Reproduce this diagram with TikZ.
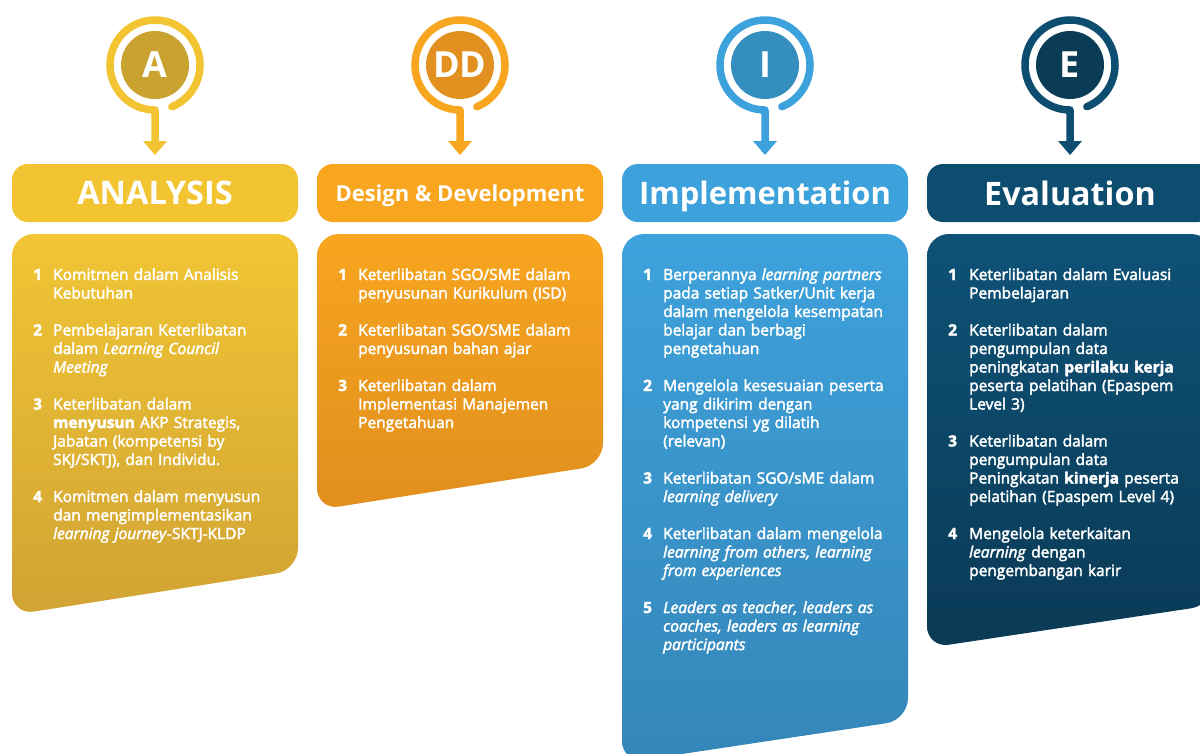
\documentclass[tikz,border=0pt]{standalone}
\usepackage{fontspec}
\setmainfont{Open Sans}
\newfontfamily\bodyf{Open Sans}[FakeBold=2.5]
\definecolor{aRing}{HTML}{F2C432}
\definecolor{aDisk}{HTML}{C9A22F}
\definecolor{aTop}{HTML}{F1C534}
\definecolor{aBot}{HTML}{D0A334}
\definecolor{dRing}{HTML}{F8A51F}
\definecolor{dDisk}{HTML}{E2901F}
\definecolor{dTop}{HTML}{F8A51F}
\definecolor{dBot}{HTML}{E08F1E}
\definecolor{iRing}{HTML}{3DA1DB}
\definecolor{iDisk}{HTML}{348EBE}
\definecolor{iTop}{HTML}{3EA2DC}
\definecolor{iBot}{HTML}{3586B8}
\definecolor{eRing}{HTML}{0D4D70}
\definecolor{eDisk}{HTML}{0B3C56}
\definecolor{eTop}{HTML}{0E5277}
\definecolor{eBot}{HTML}{0A3A55}
\newcommand\admicon[5]{%
  \draw[line width=7.5pt, color=#2, line cap=round, line join=round]
    (#1,65) ++(68:45) arc[start angle=68, end angle=-270, radius=45] -- (#1,143);
  \fill[#2] (#1-12,141) -- (#1+12,141) -- (#1,155) -- cycle;
  \node[disk, fill=#3] (#5) at (#1,65) {#4};
}
\newcommand\admbody[5]{% left, top color, bottom color, y right, y left
  \shade[top color=#2, bottom color=#3, rounded corners=22pt]
    (#1,234) -- (#1+286,234) -- (#1+286,#4) -- (#1,#5) -- cycle;
}
\tikzset{
  disk/.style={circle, minimum size=68pt, inner sep=0pt, text=white,
    font=\bfseries\fontsize{36}{36}\selectfont},
  hdr/.style={rounded corners=16pt, minimum width=286pt, minimum height=58pt,
    inner sep=0pt, text=white, text depth=0pt},
  itemnum/.style={anchor=base west, inner sep=0pt, text=white,
    font=\bodyf\bfseries\fontsize{15.5}{18.5}\selectfont},
  itemtxt/.style={anchor=base west, inner sep=0pt, text=white, align=left,
    text width=250pt, font=\bodyf\fontsize{15.5}{18.5}\selectfont},
}
\begin{document}
\begin{tikzpicture}[x=1pt, y=-1pt]
\useasboundingbox (0,0) rectangle (1200,753);
\fill[white] (0,0) rectangle (1200,753);
\clip (0,0) rectangle (1200,753);

% icons
\admicon{155}{aRing}{aDisk}{A}{iconA}
\admicon{460}{dRing}{dDisk}{DD}{iconD}
\admicon{765}{iRing}{iDisk}{I}{iconI}
\admicon{1070}{eRing}{eDisk}{E}{iconE}

% headers
\node[hdr, fill=aRing, font=\bfseries\fontsize{32.5}{32.5}\selectfont] (headA) at (155,193) {ANALYSIS};
\node[hdr, fill=dRing, font=\bfseries\fontsize{22}{22}\selectfont] (headD) at (460,193) {Design \& Development};
\node[hdr, fill=iRing, font=\bfseries\fontsize{31}{31}\selectfont] (headI) at (765,193) {Implementation};
\node[hdr, fill=eRing, font=\bfseries\fontsize{32.3}{32.3}\selectfont] (headE) at (1070,193) {Evaluation};

% bodies
\admbody{12}{aTop}{aBot}{570}{615}
\admbody{317}{dTop}{dBot}{465}{510}
\admbody{622}{iTop}{iBot}{720}{763}
\admbody{927}{eTop}{eBot}{605}{648}

% column A
\node[itemnum] (nA1) at (33,280) {1};
\node[itemtxt] (tA1) at (53,280) {Komitmen dalam Analisis\\Kebutuhan};
\node[itemnum] (nA2) at (33,335.5) {2};
\node[itemtxt] (tA2) at (53,335.5) {Pembelajaran Keterlibatan\\dalam \textit{Learning Council}\\\textit{Meeting}};
\node[itemnum] (nA3) at (33,409.5) {3};
\node[itemtxt] (tA3) at (53,409.5) {Keterlibatan dalam\\\textbf{menyusun} AKP Strategis,\\Jabatan (kompetensi by\\SKJ/SKTJ), dan Individu.};
\node[itemnum] (nA4) at (33,502) {4};
\node[itemtxt] (tA4) at (53,502) {Komitmen dalam menyusun\\dan mengimplementasikan\\\textit{learning journey}-SKTJ-KLDP};

% column DD
\node[itemnum] (nD1) at (338,280) {1};
\node[itemtxt] (tD1) at (358,280) {Keterlibatan SGO/SME dalam\\penyusunan Kurikulum (ISD)};
\node[itemnum] (nD2) at (338,335.5) {2};
\node[itemtxt] (tD2) at (358,335.5) {Keterlibatan SGO/SME dalam\\penyusunan bahan ajar};
\node[itemnum] (nD3) at (338,391) {3};
\node[itemtxt] (tD3) at (358,391) {Keterlibatan dalam\\Implementasi Manajemen\\Pengetahuan};

% column I
\node[itemnum] (nI1) at (643,280) {1};
\node[itemtxt] (tI1) at (663,280) {Berperannya \textit{learning partners}\\pada setiap Satker/Unit kerja\\dalam mengelola kesempatan\\belajar dan berbagi\\pengetahuan};
\node[itemnum] (nI2) at (643,391) {2};
\node[itemtxt] (tI2) at (663,391) {Mengelola kesesuaian peserta\\yang dikirim dengan\\kompetensi yg dilatih\\(relevan)};
\node[itemnum] (nI3) at (643,483.5) {3};
\node[itemtxt] (tI3) at (663,483.5) {Keterlibatan SGO/sME dalam\\\textit{learning delivery}};
\node[itemnum] (nI4) at (643,539) {4};
\node[itemtxt] (tI4) at (663,539) {Keterlibatan dalam mengelola\\\textit{learning from others, learning}\\\textit{from experiences}};
\node[itemnum] (nI5) at (643,613) {5};
\node[itemtxt] (tI5) at (663,613) {\textit{Leaders as teacher, leaders as}\\\textit{coaches, leaders as learning}\\\textit{participants}};

% column E
\node[itemnum] (nE1) at (948,280) {1};
\node[itemtxt] (tE1) at (969,280) {Keterlibatan dalam Evaluasi\\Pembelajaran};
\node[itemnum] (nE2) at (948,335.5) {2};
\node[itemtxt] (tE2) at (969,335.5) {Keterlibatan dalam\\pengumpulan data\\peningkatan \textbf{perilaku kerja}\\peserta pelatihan (Epaspem\\Level 3)};
\node[itemnum] (nE3) at (948,446.5) {3};
\node[itemtxt] (tE3) at (969,446.5) {Keterlibatan dalam\\pengumpulan data\\Peningkatan \textbf{kinerja} peserta\\pelatihan (Epaspem Level 4)};
\node[itemnum] (nE4) at (948,539) {4};
\node[itemtxt] (tE4) at (969,539) {Mengelola keterkaitan\\\textit{learning} dengan\\pengembangan karir};
\end{tikzpicture}
\end{document}
